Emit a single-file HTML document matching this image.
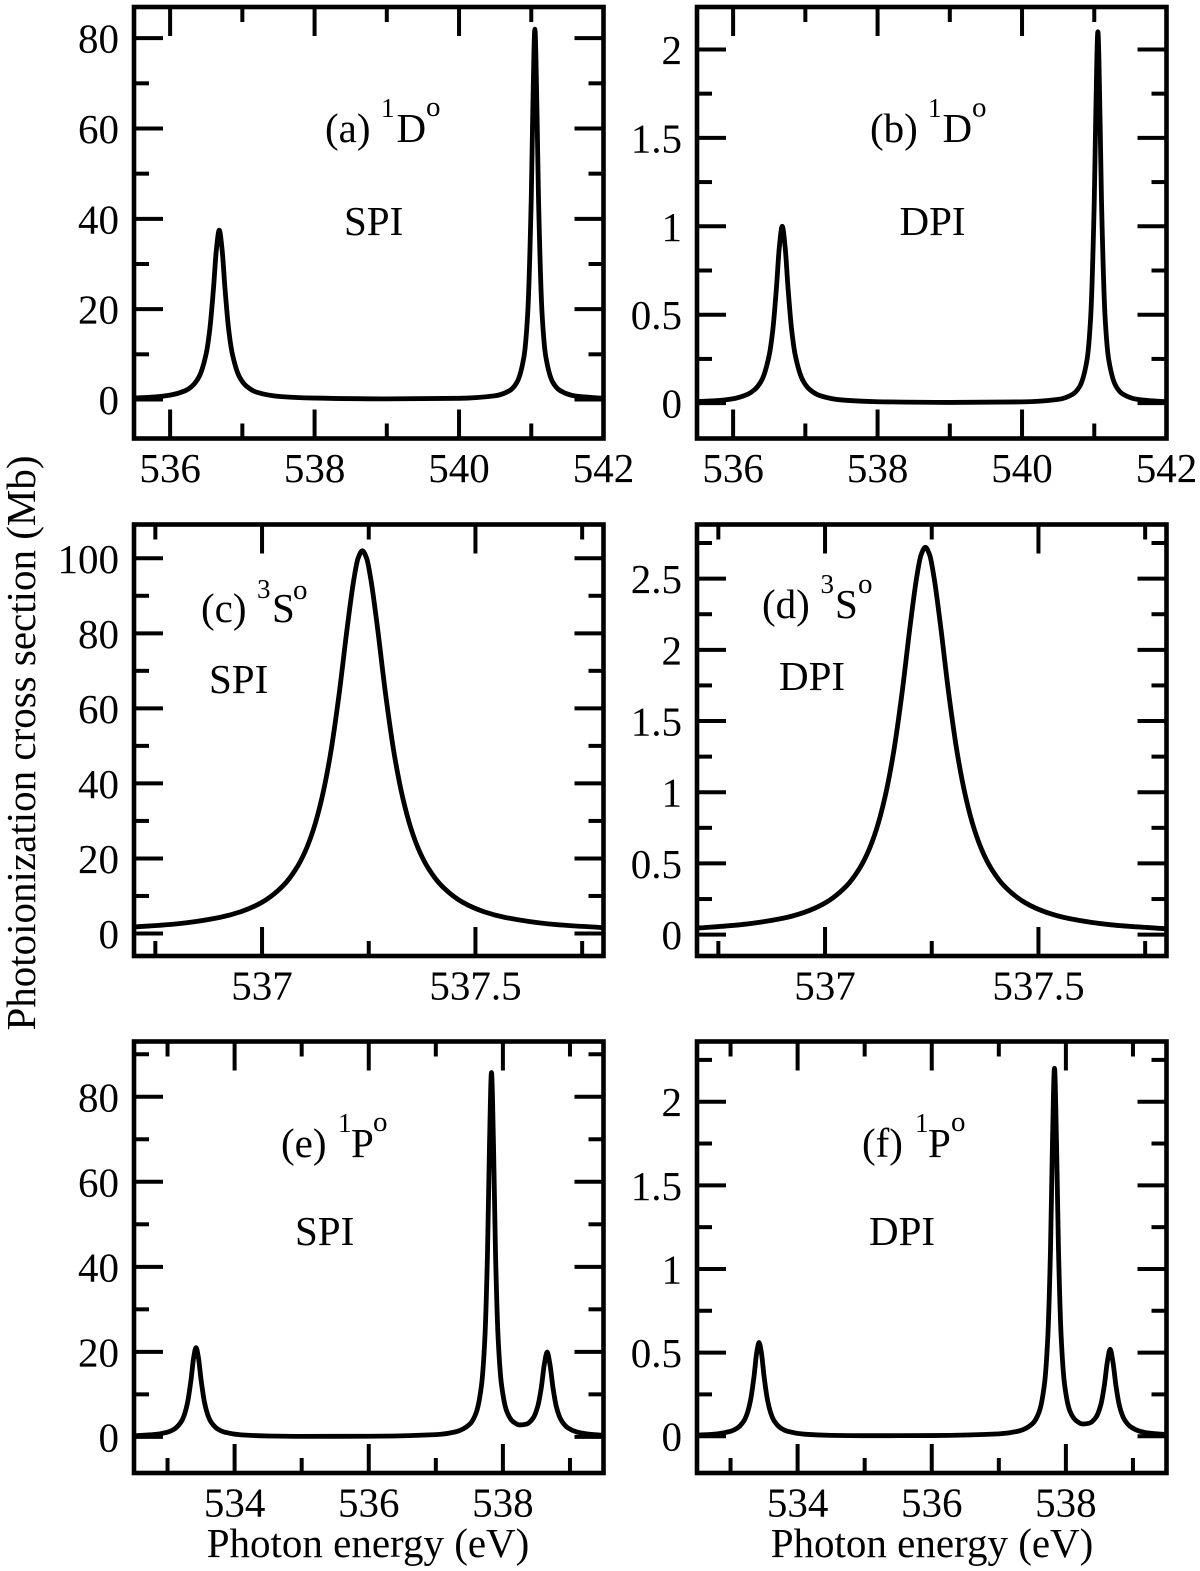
<!DOCTYPE html>
<html lang="en">
<head>
<meta charset="utf-8">
<title>Photoionization cross sections</title>
<style>
html,body{margin:0;padding:0;background:#fff;}
svg{display:block;}
text{font-family:"Liberation Serif",serif;fill:#000;}
.t{font-size:41px;}
.s{font-size:27px;}
.o{font-size:29px;}
</style>
</head>
<body>
<svg id="chart" xmlns="http://www.w3.org/2000/svg" width="1200" height="1571" viewBox="0 0 1200 1571">
<rect x="0" y="0" width="1200" height="1571" fill="#fff"/>
<g id="panels"></g>
<g>
<text class="t" x="325" y="142">(a)</text>
<text class="s" x="381" y="117">1</text>
<text class="t" x="396.5" y="142">D</text>
<text class="o" x="426" y="116">o</text>
<text class="t" x="344" y="235">SPI</text>

<text class="t" x="870" y="142">(b)</text>
<text class="s" x="928" y="117">1</text>
<text class="t" x="942.5" y="142">D</text>
<text class="o" x="972" y="116.5">o</text>
<text class="t" x="899.5" y="235">DPI</text>

<text class="t" x="201" y="622">(c)</text>
<text class="s" x="257" y="598">3</text>
<text class="t" x="272" y="622">S</text>
<text class="o" x="293" y="599">o</text>
<text class="t" x="209" y="693">SPI</text>

<text class="t" x="762" y="618">(d)</text>
<text class="s" x="820.5" y="593">3</text>
<text class="t" x="835" y="618">S</text>
<text class="o" x="858" y="593">o</text>
<text class="t" x="779" y="690">DPI</text>

<text class="t" x="281" y="1157">(e)</text>
<text class="s" x="338" y="1132">1</text>
<text class="t" x="351" y="1157">P</text>
<text class="o" x="373" y="1131">o</text>
<text class="t" x="295" y="1245">SPI</text>

<text class="t" x="862" y="1157">(f)</text>
<text class="s" x="915" y="1132">1</text>
<text class="t" x="928" y="1157">P</text>
<text class="o" x="951" y="1131">o</text>
<text class="t" x="869" y="1245">DPI</text>
</g>
<text class="t" text-anchor="middle" transform="translate(35,743) rotate(-90)">Photoionization cross section (Mb)</text>
<text class="t" text-anchor="middle" x="368" y="1557">Photon energy (eV)</text>
<text class="t" text-anchor="middle" x="932" y="1557">Photon energy (eV)</text>
</svg>
<script>
// Energies (eV) and cross sections (Mb).
const energyTop = [535.5,535.8,536,536.2,536.3,536.4,536.5,536.55,536.6,536.64,536.68,536.72,536.76,536.81,536.86,536.96,537.06,537.2,537.5,538,539,540,540.5,540.7,540.8,540.9,540.95,541,541.02,541.05,541.08,541.1,541.15,541.2,541.3,541.4,541.6,542];
const spiA = [0.33,0.58,0.96,1.87,2.9,5,10.2,15.6,24.5,33.1,37.5,33.1,24.5,15.6,10.2,5,2.9,1.6,0.69,0.31,0.14,0.26,0.83,1.96,3.76,9.6,18.9,44.7,63,82,63,44.7,18.9,9.6,3.76,1.96,0.8,0.27];
const dpiB = [0.009,0.015,0.025,0.05,0.077,0.133,0.272,0.416,0.653,0.883,1,0.883,0.653,0.416,0.272,0.133,0.077,0.043,0.018,0.008,0.004,0.007,0.021,0.05,0.096,0.246,0.484,1.145,1.61,2.1,1.61,1.145,0.484,0.246,0.096,0.05,0.021,0.007];

const energyMid = [536.7,536.8,536.9,536.95,537,537.05,537.08,537.1,537.12,537.14,537.16,537.18,537.2,537.215,537.225,537.235,537.245,537.255,537.27,537.29,537.31,537.33,537.35,537.37,537.39,537.42,537.47,537.52,537.57,537.67,537.8];
const spiC = [1.72,2.57,4.27,5.8,8.32,12.8,17.3,21.6,27.6,36,47.6,63.3,81.9,94.3,100,102,100,94.3,81.9,63.3,47.6,36,27.6,21.6,17.3,12.8,8.32,5.8,4.27,2.57,1.54];
const dpiD = [0.046,0.069,0.114,0.155,0.222,0.341,0.461,0.576,0.736,0.96,1.27,1.688,2.184,2.515,2.667,2.72,2.667,2.515,2.184,1.688,1.27,0.96,0.736,0.576,0.461,0.341,0.222,0.155,0.114,0.069,0.041];

const energyLow = [532.5,532.8,533,533.1,533.2,533.25,533.3,533.35,533.39,533.425,533.46,533.5,533.55,533.6,533.65,533.75,533.85,534.1,534.5,535,536,537,537.3,537.5,537.6,537.68,537.73,537.77,537.8,537.83,537.86,537.89,537.93,537.98,538.06,538.15,538.25,538.35,538.45,538.52,538.57,538.62,538.66,538.7,538.75,538.8,538.87,538.97,539.1,539.25,539.5];
const spiE = [0.25,0.54,1.1,1.82,3.47,5.17,8.2,13.4,18.7,21,18.7,13.4,8.2,5.17,3.47,1.82,1.1,0.47,0.21,0.12,0.15,0.53,1.2,2.88,5.6,12,22.8,43,68.6,85.7,68.7,43.1,22.9,12.2,5.9,3.6,2.8,3,4.4,7.2,11.3,17.3,19.95,17.2,11.2,6.9,3.9,2.1,1.16,0.7,0.37];
const dpiF = [0.006,0.014,0.029,0.048,0.092,0.138,0.219,0.357,0.499,0.56,0.499,0.357,0.219,0.138,0.092,0.048,0.029,0.012,0.005,0.003,0.004,0.014,0.031,0.074,0.144,0.31,0.59,1.11,1.76,2.2,1.76,1.11,0.59,0.31,0.15,0.094,0.073,0.078,0.114,0.187,0.294,0.45,0.52,0.447,0.291,0.179,0.101,0.055,0.03,0.018,0.01];

// Axis domains and tick values.
const xDomainTop = [535.5,542];
const xDomainMid = [536.7,537.8];
const xDomainLow = [532.5,539.5];
const xMajorTop = [536,538,540,542];
const xMinorTop = [537,539,541];
const xMajorMid = [537,537.5];
const xMinorMid = [536.75,537.25,537.75];
const xMajorLow = [534,536,538];
const xMinorLow = [533,535,537,539];

const yDomainA = [-8.64,86.9];
const yMajorA = [0,20,40,60,80];
const yMinorA = [10,30,50,70];
const yDomainB = [-0.2,2.24];
const yMajorB = [0,0.5,1,1.5,2];
const yMinorB = [0.25,0.75,1.25,1.75];
const yDomainC = [-6,109];
const yMajorC = [0,20,40,60,80,100];
const yMinorC = [10,30,50,70,90];
const yDomainD = [-0.15,2.88];
const yMajorD = [0,0.5,1,1.5,2,2.5];
const yMinorD = [0.25,0.75,1.25,1.75,2.25,2.75];
const yDomainE = [-8.5,93];
const yMajorE = [0,20,40,60,80];
const yMinorE = [10,30,50,70,90];
const yDomainF = [-0.22,2.36];
const yMajorF = [0,0.5,1,1.5,2];
const yMinorF = [0.25,0.75,1.25,1.75,2.25];

const panels = [
  {id:'a',left:134,top:7,   xs:energyTop,ys:spiA,xd:xDomainTop,xM:xMajorTop,xm:xMinorTop,yd:yDomainA,yM:yMajorA,ym:yMinorA},
  {id:'b',left:697,top:7,   xs:energyTop,ys:dpiB,xd:xDomainTop,xM:xMajorTop,xm:xMinorTop,yd:yDomainB,yM:yMajorB,ym:yMinorB},
  {id:'c',left:134,top:524.5,xs:energyMid,ys:spiC,xd:xDomainMid,xM:xMajorMid,xm:xMinorMid,yd:yDomainC,yM:yMajorC,ym:yMinorC},
  {id:'d',left:697,top:524.5,xs:energyMid,ys:dpiD,xd:xDomainMid,xM:xMajorMid,xm:xMinorMid,yd:yDomainD,yM:yMajorD,ym:yMinorD},
  {id:'e',left:134,top:1041.5,xs:energyLow,ys:spiE,xd:xDomainLow,xM:xMajorLow,xm:xMinorLow,yd:yDomainE,yM:yMajorE,ym:yMinorE},
  {id:'f',left:697,top:1041.5,xs:energyLow,ys:dpiF,xd:xDomainLow,xM:xMajorLow,xm:xMinorLow,yd:yDomainF,yM:yMajorF,ym:yMinorF}
];

const NS = 'http://www.w3.org/2000/svg';
const W = 469.5, H = 431.5, MAJOR = 29, MINOR = 15;
const root = document.getElementById('panels');

function make(tag, parent, attrs, text) {
  const el = document.createElementNS(NS, tag);
  for (const k in attrs) el.setAttribute(k, attrs[k]);
  if (text !== undefined) el.textContent = text;
  parent.appendChild(el);
  return el;
}

// Monotone cubic path through pixel points: smooth, no overshoot at the peaks.
function smoothPath(px, py) {
  const n = px.length, slope = [], tan = [];
  for (let i = 0; i < n - 1; i++) slope[i] = (py[i + 1] - py[i]) / (px[i + 1] - px[i]);
  tan[0] = slope[0];
  tan[n - 1] = slope[n - 2];
  for (let i = 1; i < n - 1; i++) {
    if (slope[i - 1] * slope[i] <= 0) { tan[i] = 0; continue; }
    const h0 = px[i] - px[i - 1], h1 = px[i + 1] - px[i];
    const w0 = 2 * h1 + h0, w1 = h1 + 2 * h0;
    tan[i] = (w0 + w1) / (w0 / slope[i - 1] + w1 / slope[i]);
  }
  let d = 'M' + px[0].toFixed(2) + ' ' + py[0].toFixed(2);
  for (let i = 0; i < n - 1; i++) {
    const h = (px[i + 1] - px[i]) / 3;
    d += 'C' + (px[i] + h).toFixed(2) + ' ' + (py[i] + tan[i] * h).toFixed(2) + ' ' +
         (px[i + 1] - h).toFixed(2) + ' ' + (py[i + 1] - tan[i + 1] * h).toFixed(2) + ' ' +
         px[i + 1].toFixed(2) + ' ' + py[i + 1].toFixed(2);
  }
  return d;
}

panels.forEach(function (p) {
  const sx = function (v) { return p.left + (v - p.xd[0]) / (p.xd[1] - p.xd[0]) * W; };
  const sy = function (v) { return p.top + H - (v - p.yd[0]) / (p.yd[1] - p.yd[0]) * H; };
  const right = p.left + W, bottom = p.top + H;

  const g = make('g', root, {});
  
  

  const d = smoothPath(p.xs.map(sx), p.ys.map(sy));
  const curve = make('path', g, {d: d, fill: 'none', stroke: '#000', 'stroke-width': 4.8, 'stroke-linejoin': 'round'});
  
  

  const ticks = make('g', g, {stroke: '#000', 'stroke-width': 4, fill: 'none'});
  
  

  function xTick(v, len) {
    const x = sx(v);
    const a = make('line', ticks, {x1: x, x2: x, y1: bottom, y2: bottom - len});
    
    
    const b = make('line', ticks, {x1: x, x2: x, y1: p.top, y2: p.top + len});
    
    
  }
  function yTick(v, len) {
    const y = sy(v);
    const a = make('line', ticks, {x1: p.left, x2: p.left + len, y1: y, y2: y});
    
    
    const b = make('line', ticks, {x1: right, x2: right - len, y1: y, y2: y});
    
    
  }
  p.xM.forEach(function (v) { xTick(v, MAJOR); });
  p.xm.forEach(function (v) { xTick(v, MINOR); });
  p.yM.forEach(function (v) { yTick(v, MAJOR); });
  p.ym.forEach(function (v) { yTick(v, MINOR); });

  p.xM.forEach(function (v) {
    const t = make('text', g, {class: 't', x: sx(v), y: bottom + 43.5, 'text-anchor': 'middle'}, String(v));
    
    
  });
  p.yM.forEach(function (v) {
    const t = make('text', g, {class: 't', x: p.left - 15, y: sy(v) + 14.5, 'text-anchor': 'end'}, String(v));
    
    
  });

  const frame = make('rect', g, {x: p.left, y: p.top, width: W, height: H, fill: 'none', stroke: '#000', 'stroke-width': 4.6});
  
  
});
</script>
</body>
</html>
